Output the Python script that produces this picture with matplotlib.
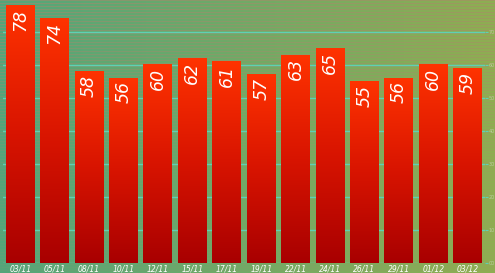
import numpy as np
import matplotlib
matplotlib.use("Agg")
import matplotlib.pyplot as plt
from matplotlib.colors import LinearSegmentedColormap

# data
dates = ["03/11", "05/11", "08/11", "10/11", "12/11", "15/11", "17/11",
         "19/11", "22/11", "24/11", "26/11", "29/11", "01/12", "03/12"]
values = [78, 74, 58, 56, 60, 62, 61, 57, 63, 65, 55, 56, 60, 59]
yticks = [0, 10, 20, 30, 40, 50, 60, 70]

fig = plt.figure(figsize=(4.95, 2.73), dpi=100)

# background: green gradient + faint horizontal stripes
bg = fig.add_axes([0, 0, 1, 1])
bg.set_axis_off()
h, w = 273, 495
xs = np.linspace(0, 1, w)
left = np.array([0.33, 0.65, 0.48])
right = np.array([0.56, 0.68, 0.32])
img = left[None, None, :] * (1 - xs[None, :, None]) + right[None, None, :] * xs[None, :, None]
img = np.repeat(img, h, axis=0)
stripe = np.zeros(h)
stripe[::3] = 1
fade = np.clip(1 - np.arange(h) / 220.0, 0.2, 1)
tint = np.array([0.68, 0.52, 0.42])
a = (stripe * fade * 0.5)[:, None, None]
img = img * (1 - a) + tint[None, None, :] * a
img = np.clip(img, 0, 1)
bg.imshow(img, aspect="auto", extent=(0, 1, 0, 1), origin="upper")
bg.set_xlim(0, 1)
bg.set_ylim(0, 1)

ax = fig.add_axes([3 / 495, 10 / 273, 482 / 495, 264 / 273])
ax.patch.set_alpha(0)

for y in yticks:
    ax.axhline(y, color="#5fd0b4", lw=1.0, zorder=1)

cmap = LinearSegmentedColormap.from_list("bar", ["#a80000", "#d81400", "#ff3300"])
grad = np.linspace(0, 1, 256)[:, None]
bw = 0.84
for i, v in enumerate(values):
    ax.imshow(grad, cmap=cmap, aspect="auto", origin="lower",
              extent=(i - bw / 2, i + bw / 2, 0, v), zorder=2)
    ax.text(i, v - 1.0, str(v), rotation=90, ha="center", va="top",
            color="white", fontsize=12.5, style="italic", zorder=3)

ax.set_xlim(-0.5, len(values) - 0.5)
ax.set_ylim(0, 80)
ax.set_xticks(range(len(dates)))
ax.set_xticklabels(dates, fontsize=5.5, style="italic", color="white")
ax.tick_params(axis="x", length=0, pad=1)
ax.yaxis.tick_right()
ax.set_yticks(yticks)
ax.set_yticklabels(["%02d" % t for t in yticks], fontsize=3.5, color="#b8cf9a")
ax.tick_params(axis="y", length=2, color="#5fd0b4", pad=0.5)
for s in ax.spines.values():
    s.set_visible(False)

fig.savefig("out.png", dpi=100)
